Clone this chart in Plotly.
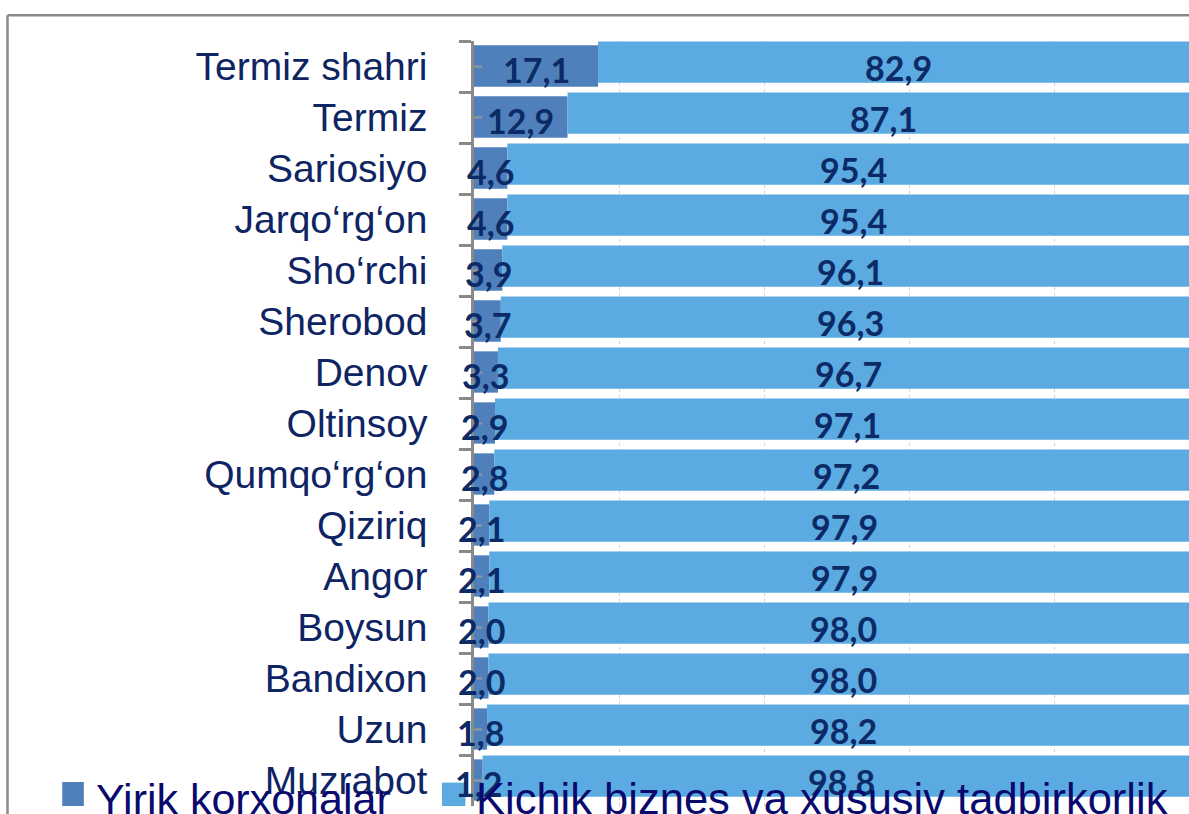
import plotly.graph_objects as go

categories = ["Termiz shahri", "Termiz", "Sariosiyo", "Jarqo‘rg‘on", "Sho‘rchi",
              "Sherobod", "Denov", "Oltinsoy", "Qumqo‘rg‘on", "Qiziriq",
              "Angor", "Boysun", "Bandixon", "Uzun", "Muzrabot"]
yirik = [17.1, 12.9, 4.6, 4.6, 3.9, 3.7, 3.3, 2.9, 2.8, 2.1, 2.1, 2.0, 2.0, 1.8, 1.2]
kichik = [82.9, 87.1, 95.4, 95.4, 96.1, 96.3, 96.7, 97.1, 97.2, 97.9, 97.9, 98.0, 98.0, 98.2, 98.8]
series_names = ["Yirik korxonalar", "Kichik biznes va xususiv tadbirkorlik"]

W, H = 1189, 814
L, T = 474.3, 40.7
B = 805.7
PW, PH = W - L, B - T
px_per_unit = 7.25
xmax = PW / px_per_unit

DARK = "#4F80BC"
LIGHT = "#5BAAE1"
LABEL = "#0B2A66"
NAVY = "#0E2463"
LEG = "#0A0A6E"
GRAY = "#8A8A8A"
SANS = "Liberation Sans, Arial, sans-serif"

def fx(px):
    return (px - L) / PW

def fy(py):
    return (B - py) / PH

def fmt(v):
    return f"{v:.1f}".replace(".", ",")

fig = go.Figure()
fig.add_trace(go.Bar(y=categories, x=yirik, orientation="h", name=series_names[0],
                     marker=dict(color=DARK, line=dict(width=0)), width=0.81, offset=-0.415,
                     showlegend=False, hoverinfo="skip"))
fig.add_trace(go.Bar(y=categories, x=kichik, base=yirik, orientation="h", name=series_names[1],
                     marker=dict(color=LIGHT, line=dict(width=0)), width=0.81, offset=-0.49,
                     showlegend=False, hoverinfo="skip"))

shapes = []
# outer frame (top and left edges)
shapes.append(dict(type="line", xref="paper", yref="paper", x0=fx(8), x1=fx(W + 5), y0=fy(15), y1=fy(15),
                   line=dict(color=GRAY, width=2.5)))
shapes.append(dict(type="line", xref="paper", yref="paper", x0=fx(8), x1=fx(8), y0=fy(15), y1=fy(H + 10),
                   line=dict(color=GRAY, width=2.5)))
# minor inside ticks at category centres
for c in categories:
    shapes.append(dict(type="line", xref="paper", yref="y", x0=0, x1=8 / PW, y0=c, y1=c,
                       line=dict(color="#9A9A9A", width=2)))
# legend squares
shapes.append(dict(type="rect", xref="paper", yref="paper", x0=fx(62.7), x1=fx(84.3),
                   y0=fy(805.7), y1=fy(781.7), fillcolor=DARK, line=dict(width=0)))
shapes.append(dict(type="rect", xref="paper", yref="paper", x0=fx(442.3), x1=fx(465.7),
                   y0=fy(805.7), y1=fy(782.3), fillcolor=LIGHT, line=dict(width=0)))

annotations = []
valfont = dict(family="Lato", size=34, color=LABEL, weight="bold")
for c, a, b in zip(categories, yirik, kichik):
    annotations.append(dict(text=fmt(a), x=a / 2, y=c, xref="x", yref="y", showarrow=False,
                            xanchor="center", yanchor="middle", yshift=-3, font=valfont))
    annotations.append(dict(text=fmt(b), x=a + b / 2, y=c, xref="x", yref="y", showarrow=False,
                            xanchor="center", yanchor="middle", yshift=-1, font=valfont))

annotations += [
    dict(text=series_names[0], xref="paper", yref="paper", x=fx(94), y=fy(799), xanchor="left",
         yanchor="middle", showarrow=False, font=dict(family=SANS, size=43, color=LEG)),
    dict(text=series_names[1], xref="paper", yref="paper", x=fx(474), y=fy(799), xanchor="left",
         yanchor="middle", showarrow=False, font=dict(family=SANS, size=43.5, color=LEG)),
]

fig.update_layout(
    width=W, height=H,
    margin=dict(l=L, r=0, t=T, b=H - B, pad=0),
    paper_bgcolor="white", plot_bgcolor="white",
    barmode="overlay",
    shapes=shapes, annotations=annotations,
    showlegend=False,
    xaxis=dict(range=[0, xmax], dtick=20, showgrid=True, gridcolor="#D4D4D4", griddash="dot",
               gridwidth=1, showticklabels=False, zeroline=False, showline=False, ticks=""),
    yaxis=dict(type="category", categoryorder="array", categoryarray=categories,
               range=[14.5, -0.5], showline=True, linecolor=GRAY, linewidth=2.5,
               ticks="outside", ticklen=12, tickwidth=2.5, tickcolor=GRAY, tickson="boundaries",
               ticklabelstandoff=36, showgrid=False, zeroline=False,
               tickfont=dict(family=SANS, size=39, color=NAVY)),
)

fig.write_html("out.html")
